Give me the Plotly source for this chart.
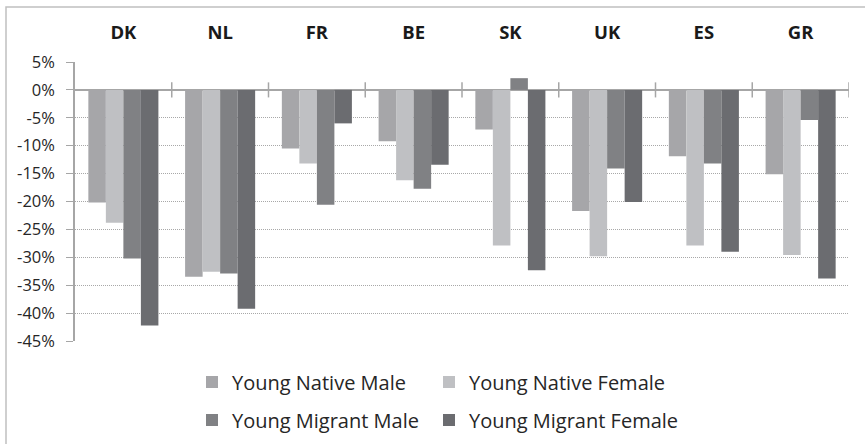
import plotly.graph_objects as go

countries = ["DK", "NL", "FR", "BE", "SK", "UK", "ES", "GR"]
series_names = ["Young Native Male", "Young Native Female", "Young Migrant Male", "Young Migrant Female"]
native_male = [-20.2, -33.5, -10.5, -9.2, -7.1, -21.7, -11.9, -15.1]
native_female = [-23.8, -32.6, -13.2, -16.2, -27.9, -29.8, -27.9, -29.6]
migrant_male = [-30.2, -32.9, -20.6, -17.7, 2.1, -14.1, -13.2, -5.4]
migrant_female = [-42.2, -39.2, -6.0, -13.4, -32.3, -20.1, -29.0, -33.8]
y_ticks = [5, 0, -5, -10, -15, -20, -25, -30, -35, -40, -45]
y_tick_labels = [f"{v}%" for v in y_ticks]

colors = ["#a6a6a9", "#bfc0c3", "#808184", "#6b6c70"]
all_values = [native_male, native_female, migrant_male, migrant_female]

W, H = 865, 444
L, R, T, B = 75, 16, 62, 103
pw, ph = W - L - R, H - T - B

fig = go.Figure()
legend_names = ["legend", "legend2", "legend3", "legend4"]
for name, vals, col, lg in zip(series_names, all_values, colors, legend_names):
    fig.add_trace(go.Bar(
        x=countries, y=[v / 100 for v in vals], name=name,
        marker=dict(color=col, line=dict(width=0)), legend=lg,
    ))

def px_x(p):
    return (p - L) / pw

def px_y(p):
    return (H - B - p) / ph

leg_font = dict(family="Open Sans", size=20, color="#262626")
leg_pos = [(192, 382), (429, 382), (192, 420), (429, 420)]
legends = {}
for lg, (lx, ly) in zip(legend_names, leg_pos):
    legends[lg] = dict(x=px_x(lx), y=px_y(ly), xanchor="left", yanchor="middle",
                       orientation="h", font=leg_font, bgcolor="rgba(0,0,0,0)",
                       borderwidth=0)

shapes = []
# category boundary ticks crossing the zero line
for i in range(1, len(countries) + 1):
    shapes.append(dict(type="line", xref="x", yref="y", x0=i - 0.5, x1=i - 0.5,
                       y0=-0.0135, y1=0.0135, line=dict(color="#a6a6a6", width=1.5)))
# chart border (left and top visible)
shapes.append(dict(type="rect", xref="paper", yref="paper",
                   x0=px_x(6), x1=px_x(880), y0=px_y(7), y1=px_y(460),
                   line=dict(color="#c0c0c0", width=1.5), layer="below"))

fig.update_layout(
    width=W, height=H,
    margin=dict(l=L, r=R, t=T, b=B, autoexpand=False),
    paper_bgcolor="white", plot_bgcolor="white",
    barmode="group", bargap=0.276, bargroupgap=0,
    showlegend=True,
    shapes=shapes,
    **legends,
)
fig.update_xaxes(
    side="top", type="category", range=[-0.5, len(countries) - 0.5],
    showline=False, showgrid=False, ticks="", zeroline=False, automargin=False,
    tickfont=dict(family="Open Sans", size=18.5, color="#1a1a1a", weight="bold"),
    ticklabelstandoff=18,
)
fig.update_yaxes(
    range=[-0.45, 0.05], tickvals=[v / 100 for v in y_ticks], ticktext=y_tick_labels,
    showline=True, linecolor="#a6a6a6", linewidth=1.5, automargin=False,
    ticks="outside", ticklen=7, tickcolor="#a6a6a6", tickwidth=1,
    showgrid=True, gridcolor="#a8a8a8", griddash="1px,1px", gridwidth=1,
    zeroline=True, zerolinecolor="#a6a6a6", zerolinewidth=1.5,
    tickfont=dict(family="Open Sans", size=16.5, color="#262626"),
    ticklabelstandoff=8,
)

fig.write_html("out.html", config={"displayModeBar": False},
               post_script="document.body.style.margin='0';")
